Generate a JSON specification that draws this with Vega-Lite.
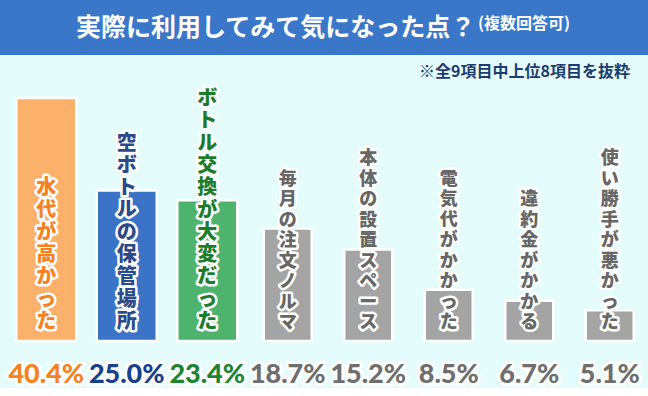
{
  "$schema": "https://vega.github.io/schema/vega-lite/v6.json",
  "background": "#e5fcfd",
  "padding": 0,
  "spacing": 9,
  "config": {"view": {"stroke": null}, "font": "Noto Sans CJK JP"},
  "title": {"text": "(複数回答可)", "anchor": "start", "frame": "bounds", "dx": 478, "offset": -45, "baseline": "alphabetic", "fontSize": 16, "font": "Noto Sans CJK JP", "fontWeight": "bold", "color": "#ffffff"},
  "vconcat": [
    {
      "width": 648,
      "height": 55,
      "view": {"fill": "#3b77c9", "stroke": null},
      "title": {"text": "実際に利用してみて気になった点？", "anchor": "start", "frame": "bounds", "dx": 76, "offset": -61, "baseline": "alphabetic", "fontSize": 25, "font": "Noto Sans CJK JP", "fontWeight": "bold", "color": "#ffffff"},
      "data": {"values": []},
      "mark": "point",
      "encoding": {}
    },
    {
      "width": 648,
      "height": 253,
      "title": {"text": "※全9項目中上位8項目を抜粋", "anchor": "end", "dx": -18, "offset": 8, "fontSize": 16, "font": "Noto Sans CJK JP", "fontWeight": "bold", "color": "#1d3b6c"},
      "data": {"values": [
        {"rank": 1, "item": "水代が高かった", "pct": 40.4},
        {"rank": 2, "item": "空ボトルの保管場所", "pct": 25.0},
        {"rank": 3, "item": "ボトル交換が大変だった", "pct": 23.4},
        {"rank": 4, "item": "毎月の注文ノルマ", "pct": 18.7},
        {"rank": 5, "item": "本体の設置スペース", "pct": 15.2},
        {"rank": 6, "item": "電気代がかかった", "pct": 8.5},
        {"rank": 7, "item": "違約金がかかる", "pct": 6.7},
        {"rank": 8, "item": "使い勝手が悪かった", "pct": 5.1}
      ]},
      "transform": [
        {"calculate": "split(datum.item, '')", "as": "chars"},
        {"calculate": "format(datum.pct, '.1f') + '%'", "as": "plabel"}
      ],
      "encoding": {
        "x": {"field": "item", "type": "nominal", "sort": null, "axis": null,
              "scale": {"range": [6, 650], "paddingInner": 0, "paddingOuter": 0}}
      },
      "resolve": {"scale": {"color": "independent"}},
      "layer": [
        {
          "mark": {"type": "bar", "stroke": "#ffffff", "strokeWidth": 2.5},
          "encoding": {
            "y": {"field": "pct", "type": "quantitative", "axis": null, "scale": {"domain": [0, 42.06], "nice": false}},
            "color": {"field": "item", "type": "nominal", "legend": null,
              "scale": {"domain": ["水代が高かった","空ボトルの保管場所","ボトル交換が大変だった","毎月の注文ノルマ","本体の設置スペース","電気代がかかった","違約金がかかる","使い勝手が悪かった"],
                        "range": ["#fbb16a","#3b74c6","#4eb46d","#a4a4a4","#a4a4a4","#a4a4a4","#a4a4a4","#a4a4a4"]}},
            "size": {"condition": {"test": "datum.rank <= 3", "value": 60}, "value": 48}
          }
        },
        {
          "transform": [{"filter": "datum.rank <= 3"}],
          "mark": {"type": "text", "baseline": "bottom", "dy": {"expr": "-9 - (length(datum.chars) - 1) * 22.3"}, "fontSize": 20, "lineHeight": 22.3, "fontWeight": 900, "stroke": "#ffffff", "strokeWidth": 5, "strokeJoin": "round", "fill": "#ffffff"},
          "encoding": {"y": {"datum": 0, "type": "quantitative"}, "text": {"field": "chars"}}
        },
        {
          "transform": [{"filter": "datum.rank <= 3"}],
          "mark": {"type": "text", "baseline": "bottom", "dy": {"expr": "-9 - (length(datum.chars) - 1) * 22.3"}, "fontSize": 20, "lineHeight": 22.3, "fontWeight": 900},
          "encoding": {"y": {"datum": 0, "type": "quantitative"}, "text": {"field": "chars"},
            "color": {"field": "item", "type": "nominal", "legend": null,
              "scale": {"domain": ["水代が高かった","空ボトルの保管場所","ボトル交換が大変だった"],
                        "range": ["#f5821f","#2b4a88","#1b7d2c"]}}}
        },
        {
          "transform": [{"filter": "datum.rank > 3"}],
          "mark": {"type": "text", "baseline": "bottom", "dy": {"expr": "-9 - (length(datum.chars) - 1) * 20.5"}, "fontSize": 18, "lineHeight": 20.5, "fontWeight": 900, "stroke": "#ffffff", "strokeWidth": 5, "strokeJoin": "round", "fill": "#ffffff"},
          "encoding": {"y": {"datum": 0, "type": "quantitative"}, "text": {"field": "chars"}}
        },
        {
          "transform": [{"filter": "datum.rank > 3"}],
          "mark": {"type": "text", "baseline": "bottom", "dy": {"expr": "-9 - (length(datum.chars) - 1) * 20.5"}, "fontSize": 18, "lineHeight": 20.5, "fontWeight": 900, "fill": "#676767"},
          "encoding": {"y": {"datum": 0, "type": "quantitative"}, "text": {"field": "chars"}}
        },
        {
          "mark": {"type": "text", "baseline": "alphabetic", "dy": 42, "fontSize": 27, "font": "Lato", "fontWeight": 900, "stroke": "#ffffff", "strokeWidth": 6, "strokeJoin": "round", "fill": "#ffffff"},
          "encoding": {"y": {"datum": 0, "type": "quantitative"}, "text": {"field": "plabel"}}
        },
        {
          "mark": {"type": "text", "baseline": "alphabetic", "dy": 42, "fontSize": 27, "font": "Lato", "fontWeight": 900},
          "encoding": {"y": {"datum": 0, "type": "quantitative"}, "text": {"field": "plabel"},
            "color": {"field": "item", "type": "nominal", "legend": null,
              "scale": {"domain": ["水代が高かった","空ボトルの保管場所","ボトル交換が大変だった","毎月の注文ノルマ","本体の設置スペース","電気代がかかった","違約金がかかる","使い勝手が悪かった"],
                        "range": ["#f5821f","#163f8c","#1b8530","#6e6e6e","#6e6e6e","#6e6e6e","#6e6e6e","#6e6e6e"]}}}
        }
      ]
    }
  ]
}
